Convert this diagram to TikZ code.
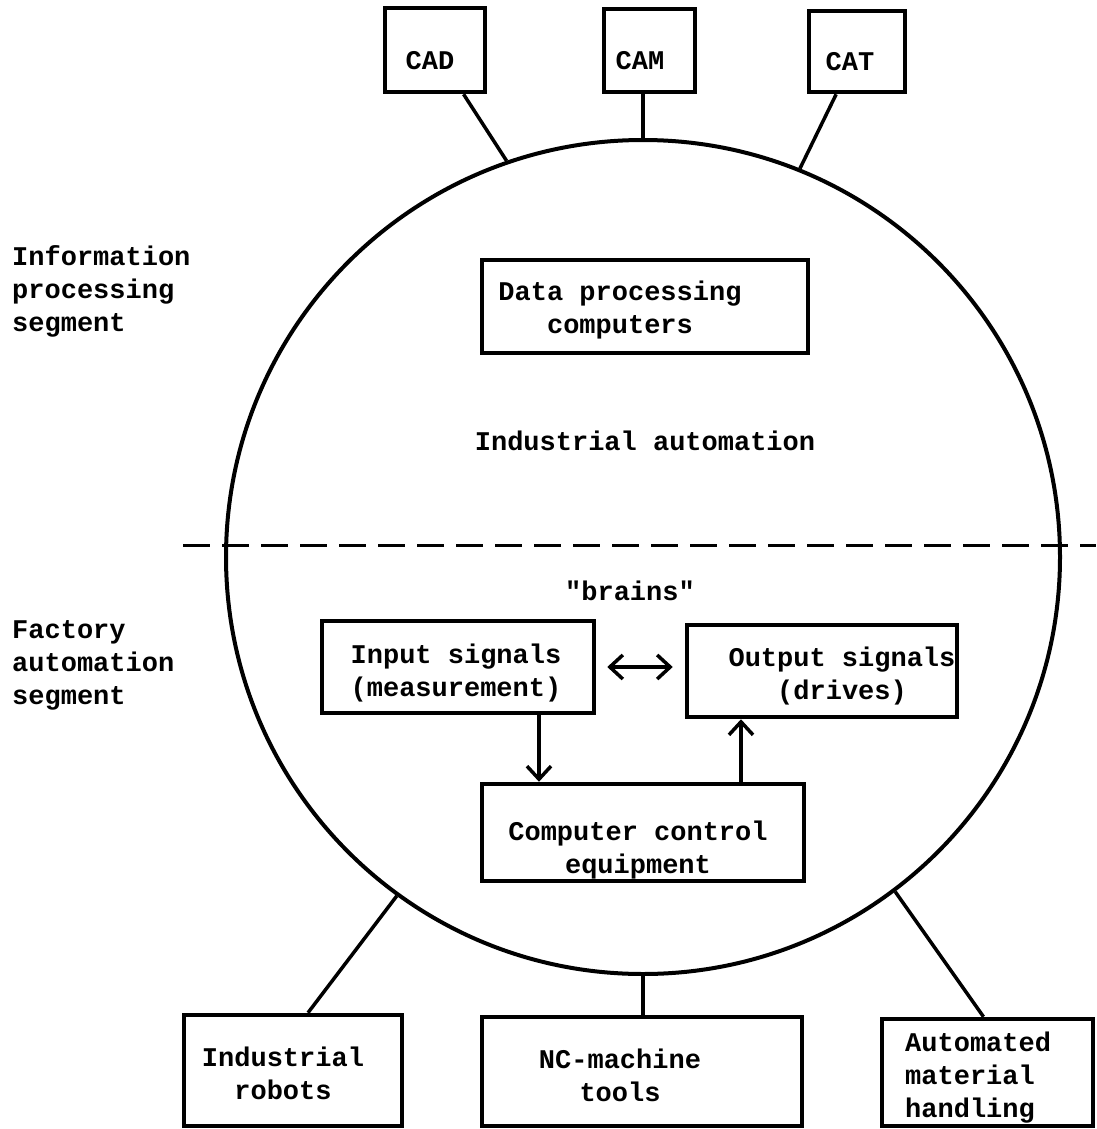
\documentclass[tikz,border=0pt]{standalone}
\usepackage{fontspec}
\setmainfont{Liberation Mono}[Ligatures=TeXOff]
\usetikzlibrary{arrows.meta}
\begin{document}
\begin{tikzpicture}[x=1pt,y=-1pt,
  box/.style={draw, line width=4.5pt, inner sep=0pt},
  txt/.style={font=\fontsize{27}{33}\selectfont\bfseries, align=center, inner sep=0pt},
  link/.style={line width=3.5pt},
  arr/.style={line width=3.5pt, -{Straight Barb[length=13pt,width=24pt]}},
  darr/.style={line width=3.5pt, {Straight Barb[length=13pt,width=24pt]}-{Straight Barb[length=13pt,width=24pt]}},
]
\useasboundingbox (0,0) rectangle (1096,1129);

% main circle
\node[draw, circle, line width=4pt, minimum size=834pt, inner sep=0pt] (ring) at (643,557) {};

% top boxes
\node[box, minimum width=100pt, minimum height=84pt] (cad) at (435,50) {};
\node[box, minimum width=91pt, minimum height=83pt] (cam) at (649.5,50.5) {};
\node[box, minimum width=96pt, minimum height=81pt] (cat) at (857,51.5) {};
\node[txt] (cadt) at (430,61) {CAD};
\node[txt] (camt) at (640,61) {CAM};
\node[txt] (catt) at (850,62) {CAT};

\draw[link] (cad) -- (ring.109.7);
\draw[link] (ring.north) -- (ring.north |- cam.south);
\draw[link] (cat) -- (ring.68.9);

% side labels
\node[txt, align=left, anchor=west] (info) at (12,291) {Information\\processing\\segment};
\node[txt, align=left, anchor=west] (fact) at (12,665) {Factory\\automation\\segment};

% upper segment
\node[box, minimum width=326pt, minimum height=93pt] (dp) at (645,306.5) {};
\node[txt] (dpt) at (620,310) {Data processing\\computers};
\node[txt] (ia) at (645,441) {Industrial automation};

% dashed divider
\coordinate (dl) at (183,545);
\coordinate (dr) at (1096,545);
\draw[line width=3pt, dash pattern=on 27pt off 12pt] (dl) -- (dr);

% lower segment
\node[txt] (brains) at (630,591) {"brains"};
\node[box, minimum width=272pt, minimum height=92pt] (inp) at (458,667) {};
\node[txt] (inpt) at (456,673) {Input signals\\(measurement)};
\node[box, minimum width=270pt, minimum height=92pt] (out) at (822,671) {};
\node[txt] (outt) at (842,676) {Output signals\\(drives)};
\node[box, minimum width=322pt, minimum height=97pt] (comp) at (643,832.5) {};
\node[txt] (compt) at (638,850) {Computer control\\equipment};

\draw[darr, shorten <=11pt, shorten >=12pt] (inp.east) -- (inp.east -| out.west);
\draw[arr] ([xshift=81pt]inp.south) -- ([xshift=-104pt]comp.north);
\draw[arr] ([xshift=98pt]comp.north) -- ([xshift=-81pt]out.south);

% bottom boxes
\node[box, minimum width=218pt, minimum height=111pt] (rob) at (293,1070.5) {};
\node[txt] (robt) at (283,1073) {Industrial\\robots};
\node[box, minimum width=320pt, minimum height=109pt] (nc) at (642,1071.5) {};
\node[txt] (nct) at (620,1075) {NC-machine\\tools};
\node[box, minimum width=211pt, minimum height=107pt] (auto) at (987.5,1072.5) {};
\node[txt, align=left, anchor=west] (autot) at (905,1078) {Automated\\material\\handling};

\draw[link] ([xshift=15pt]rob.north) -- (ring.-126.2);
\draw[link] (ring.south) -- (ring.south |- nc.north);
\draw[link] ([xshift=-4pt]auto.north) -- (ring.-53.7);
\end{tikzpicture}
\end{document}
